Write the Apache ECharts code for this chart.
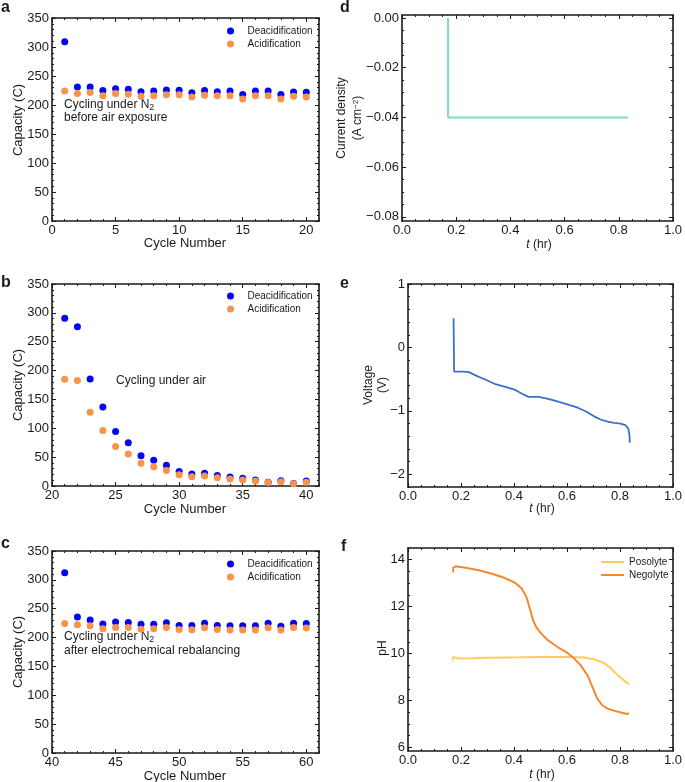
<!DOCTYPE html>
<html><head><meta charset="utf-8">
<script src="https://cdn.jsdelivr.net/npm/echarts@6/dist/echarts.min.js"></script>
<style>html,body{margin:0;padding:0;background:#fff}#c{width:685px;height:782px}</style>
</head><body><div id="c"></div>
<script>
// ---------- data ----------
const cyclesA = [1,2,3,4,5,6,7,8,9,10,11,12,13,14,15,16,17,18,19,20];
const deacidA = [309,231,231,225,228,227,223,224,226,225.5,221,225,223,224,218,224,224,218,222.5,222];
const acidA   = [224,220,221.5,216,220,218.5,215,216,217.5,217.5,214,217,216,216,210.5,216,216,210.5,215,214];

const cyclesB = [21,22,23,24,25,26,27,28,29,30,31,32,33,34,35,36,37,38,39,40];
const deacidB = [290.5,276,185.5,137,94.5,75,52.5,44.5,36,25,21,22,18,15.5,13.5,10.5,6.5,9,4.5,8.5];
const acidB   = [185,183,128,96,68.5,55.5,39.5,33.5,27,19.5,16,17.5,14.5,12,10.5,8.5,6,7.5,4,6.5];

const cyclesC = [41,42,43,44,45,46,47,48,49,50,51,52,53,54,55,56,57,58,59,60];
const deacidC = [312.5,235.5,230.5,223.5,227,226,223,223,225.5,221,221,225,221,220.5,220.5,220.5,225,219.5,225,224.5];
const acidC   = [224.5,222,220.5,215.5,217.5,217.5,214.5,215.5,217.5,214,213.5,217,214,213,213,213,217,213,217.5,216.5];

const tD = [0.17, 0.17, 0.835];
const jD = [0.0, -0.04, -0.04];

const tE = [0.172,0.174,0.181,0.205,0.230,0.255,0.293,0.330,0.367,0.405,0.430,0.455,0.467,0.492,0.529,0.567,0.604,0.641,0.672,0.704,0.729,0.753,0.778,0.803,0.822,0.831,0.836,0.837];
const vE = [0.46,-0.38,-0.39,-0.38,-0.39,-0.44,-0.51,-0.58,-0.62,-0.67,-0.73,-0.78,-0.78,-0.78,-0.81,-0.855,-0.90,-0.95,-1.01,-1.09,-1.14,-1.17,-1.19,-1.20,-1.23,-1.275,-1.38,-1.50];

const tNeg  = [0.170,0.171,0.180,0.217,0.267,0.317,0.366,0.404,0.429,0.447,0.460,0.472,0.484,0.503,0.528,0.565,0.602,0.627,0.652,0.677,0.696,0.714,0.733,0.752,0.776,0.801,0.826,0.834];
const phNeg = [13.46,13.66,13.72,13.66,13.55,13.40,13.22,13.02,12.77,12.41,11.91,11.42,11.13,10.85,10.57,10.28,10.03,9.79,9.50,9.08,8.58,8.09,7.80,7.66,7.57,7.50,7.43,7.46];
const tPos  = [0.170,0.170,0.193,0.242,0.304,0.366,0.429,0.491,0.553,0.615,0.665,0.702,0.739,0.764,0.789,0.814,0.835];
const phPos = [9.72,9.86,9.79,9.80,9.82,9.83,9.84,9.86,9.86,9.86,9.83,9.76,9.60,9.39,9.11,8.87,8.68];

// tick labels
const capTicks = [0,50,100,150,200,250,300,350];
const cycTicksA = [0,5,10,15,20];
const cycTicksB = [20,25,30,35,40];
const cycTicksC = [40,45,50,55,60];
const tTicks = [0,0.2,0.4,0.6,0.8,1.0];
const jTicks = [0,-0.02,-0.04,-0.06,-0.08];
const vTicks = [-2,-1,0,1];
const phTicks = [6,8,10,12,14];

// ---------- helpers ----------
const FONT = '"Liberation Sans", Arial, Helvetica, sans-serif';
const INK = '#1a1a1a';
const BLUE = '#0505f5';
const ORANGE = '#f9934a';

function steps(a, b, s) {
  const out = [];
  const n = Math.round((b - a) / s);
  for (let k = 0; k <= n; k++) out.push(Math.round((a + k * s) * 1e6) / 1e6);
  return out;
}

const grids = [], xAxes = [], yAxes = [];
function axis(gi, pos, range, ticks, len, labels, fmt, line) {
  return {
    type: 'value', gridIndex: gi, position: pos, min: range[0], max: range[1],
    axisLine: { show: line, onZero: false, lineStyle: { color: INK, width: 1.6 } },
    axisTick: { show: true, inside: true, length: len, customValues: ticks, lineStyle: { color: INK, width: 1 } },
    axisLabel: { show: labels, customValues: ticks, formatter: fmt, fontSize: 13, color: INK, margin: 3, fontFamily: FONT },
    splitLine: { show: false }
  };
}
function panel(rect, xr, yr, xMaj, xMin, yMaj, yMin, xFmt, yFmt) {
  const gi = grids.length;
  grids.push({ left: rect[0], top: rect[1], width: rect[2], height: rect[3] });
  const xi = xAxes.length, yi = yAxes.length;
  xAxes.push(axis(gi, 'bottom', xr, xMaj, 4, true, xFmt, true));
  xAxes.push(axis(gi, 'bottom', xr, xMin, 2, false, null, false));
  xAxes.push(axis(gi, 'top', xr, xMaj, 4, false, null, true));
  xAxes.push(axis(gi, 'top', xr, xMin, 2, false, null, false));
  yAxes.push(axis(gi, 'left', yr, yMaj, 4, true, yFmt, true));
  yAxes.push(axis(gi, 'left', yr, yMin, 2, false, null, false));
  yAxes.push(axis(gi, 'right', yr, yMaj, 4, false, null, true));
  yAxes.push(axis(gi, 'right', yr, yMin, 2, false, null, false));
  return { xi, yi };
}
const pairs = (xs, ys) => xs.map((x, i) => [x, ys[i]]);
const intFmt = v => String(v);
const tFmt = v => v.toFixed(1);
const jFmt = v => v === 0 ? '0.00' : '\u2212' + Math.abs(v).toFixed(2);
const vFmt = v => v < 0 ? '\u2212' + Math.abs(v) : String(v);

const pA = panel([52, 18, 267, 203], [0, 21], [0, 350], cycTicksA, steps(0, 21, 1), capTicks, steps(0, 350, 10), intFmt, intFmt);
const pB = panel([52, 284, 267, 202], [20, 41], [0, 350], cycTicksB, steps(20, 41, 1), capTicks, steps(0, 350, 10), intFmt, intFmt);
const pC = panel([52, 551, 267, 202], [40, 61], [0, 350], cycTicksC, steps(40, 61, 1), capTicks, steps(0, 350, 10), intFmt, intFmt);
const pD = panel([402, 15, 274, 206], [0, 1], [-0.0817, 0.0012], tTicks, steps(0, 1, 0.05), jTicks, steps(-0.08, 0, 0.005), tFmt, jFmt);
const pE = panel([408, 284, 268, 203], [0, 1], [-2.2, 1], tTicks, steps(0, 1, 0.05), vTicks, steps(-2.2, 1, 0.2), tFmt, vFmt);
const pF = panel([408, 548, 268, 203], [0, 1], [5.85, 14.5], tTicks, steps(0, 1, 0.05), phTicks, steps(6, 14.5, 0.5), tFmt, intFmt);

function scat(p, name, xs, ys, color) {
  return { type: 'scatter', name, xAxisIndex: p.xi, yAxisIndex: p.yi, data: pairs(xs, ys),
    symbol: 'circle', symbolSize: 7, itemStyle: { color, opacity: 1 }, silent: true };
}
function line(p, name, xs, ys, color, w) {
  return { type: 'line', name, xAxisIndex: p.xi, yAxisIndex: p.yi, data: pairs(xs, ys),
    symbol: 'none', showSymbol: false, lineStyle: { color, width: w }, itemStyle: { color }, silent: true };
}

const series = [
  scat(pA, 'Deacidification', cyclesA, deacidA, BLUE),
  scat(pA, 'Acidification', cyclesA, acidA, ORANGE),
  scat(pB, 'Deacidification', cyclesB, deacidB, BLUE),
  scat(pB, 'Acidification', cyclesB, acidB, ORANGE),
  scat(pC, 'Deacidification', cyclesC, deacidC, BLUE),
  scat(pC, 'Acidification', cyclesC, acidC, ORANGE),
  line(pD, 'Current', tD, jD, '#7edcc6', 2),
  line(pE, 'Voltage', tE, vE, '#3d6fc7', 1.8),
  line(pF, 'Posolyte', tPos, phPos, '#fecd5c', 2),
  line(pF, 'Negolyte', tNeg, phNeg, '#f5872d', 2)
];

function scatLegend(top) {
  return { left: 227, top, orient: 'vertical', padding: 0, itemWidth: 24, itemHeight: 7, itemGap: 1,
    icon: 'circle', selectedMode: false, data: ['Deacidification', 'Acidification'],
    itemStyle: { opacity: 1 },
    textStyle: { fontSize: 10, color: INK, fontFamily: FONT, lineHeight: 12 } };
}
const legends = [
  scatLegend(25), scatLegend(290), scatLegend(558),
  { left: 601, top: 556, orient: 'vertical', padding: 0, itemWidth: 23, itemHeight: 2, itemGap: 1,
    icon: 'rect', selectedMode: false, data: ['Posolyte', 'Negolyte'],
    textStyle: { fontSize: 10, color: INK, fontFamily: FONT, lineHeight: 12 } }
];

function txt(x, y, text, opts = {}) {
  return { type: 'text', x, y, rotation: opts.rot || 0, silent: true,
    style: { text, align: opts.align || 'center', verticalAlign: 'middle',
      fontSize: opts.size || 12, fontWeight: opts.weight || 'normal', fill: INK, fontFamily: FONT,
      rich: {
        sub: { fontSize: 9, fontFamily: FONT, fill: INK, verticalAlign: 'bottom', padding: [5, 0, 0, 0] },
        sup: { fontSize: 8, fontFamily: FONT, fill: INK, verticalAlign: 'top', padding: [0, 0, 5, 0] },
        i: { fontStyle: 'italic', fontSize: 12, fontFamily: FONT, fill: INK },
        n: { fontSize: 12, fontFamily: FONT, fill: INK }
      } } };
}
const R = Math.PI / 2;
const graphics = [
  txt(1, 8, 'a', { align: 'left', size: 16, weight: 'bold' }),
  txt(1, 283, 'b', { align: 'left', size: 16, weight: 'bold' }),
  txt(1, 544, 'c', { align: 'left', size: 16, weight: 'bold' }),
  txt(340, 8, 'd', { align: 'left', size: 16, weight: 'bold' }),
  txt(340, 284, 'e', { align: 'left', size: 16, weight: 'bold' }),
  txt(341, 547, 'f', { align: 'left', size: 16, weight: 'bold' }),
  txt(18, 120, 'Capacity (C)', { rot: R, size: 13 }),
  txt(18, 385, 'Capacity (C)', { rot: R, size: 13 }),
  txt(18, 652, 'Capacity (C)', { rot: R, size: 13 }),
  txt(185, 243, 'Cycle Number', { size: 13 }),
  txt(185, 509, 'Cycle Number', { size: 13 }),
  txt(185, 776, 'Cycle Number', { size: 13 }),
  txt(342, 118, 'Current density', { rot: R }),
  txt(358, 118, '{n|(A cm}{sup|\u22122}{n|)}', { rot: R }),
  txt(369, 385, 'Voltage', { rot: R }),
  txt(383, 385, '(V)', { rot: R }),
  txt(383, 648, 'pH', { rot: R }),
  txt(539, 245, '{i|t}{n| (hr)}'),
  txt(542, 509, '{i|t}{n| (hr)}'),
  txt(542, 775, '{i|t}{n| (hr)}'),
  txt(64, 105, '{n|Cycling under N}{sub|2}', { align: 'left' }),
  txt(64, 118, 'before air exposure', { align: 'left' }),
  txt(116, 381, 'Cycling under air', { align: 'left' }),
  txt(64, 637, '{n|Cycling under N}{sub|2}', { align: 'left' }),
  txt(64, 651, 'after electrochemical rebalancing', { align: 'left' })
];

const chart = echarts.init(document.getElementById('c'), null, { renderer: 'canvas' });
chart.setOption({
  animation: false,
  backgroundColor: '#ffffff',
  textStyle: { fontFamily: FONT },
  grid: grids, xAxis: xAxes, yAxis: yAxes,
  legend: legends,
  series,
  graphic: graphics
});
</script></body></html>
